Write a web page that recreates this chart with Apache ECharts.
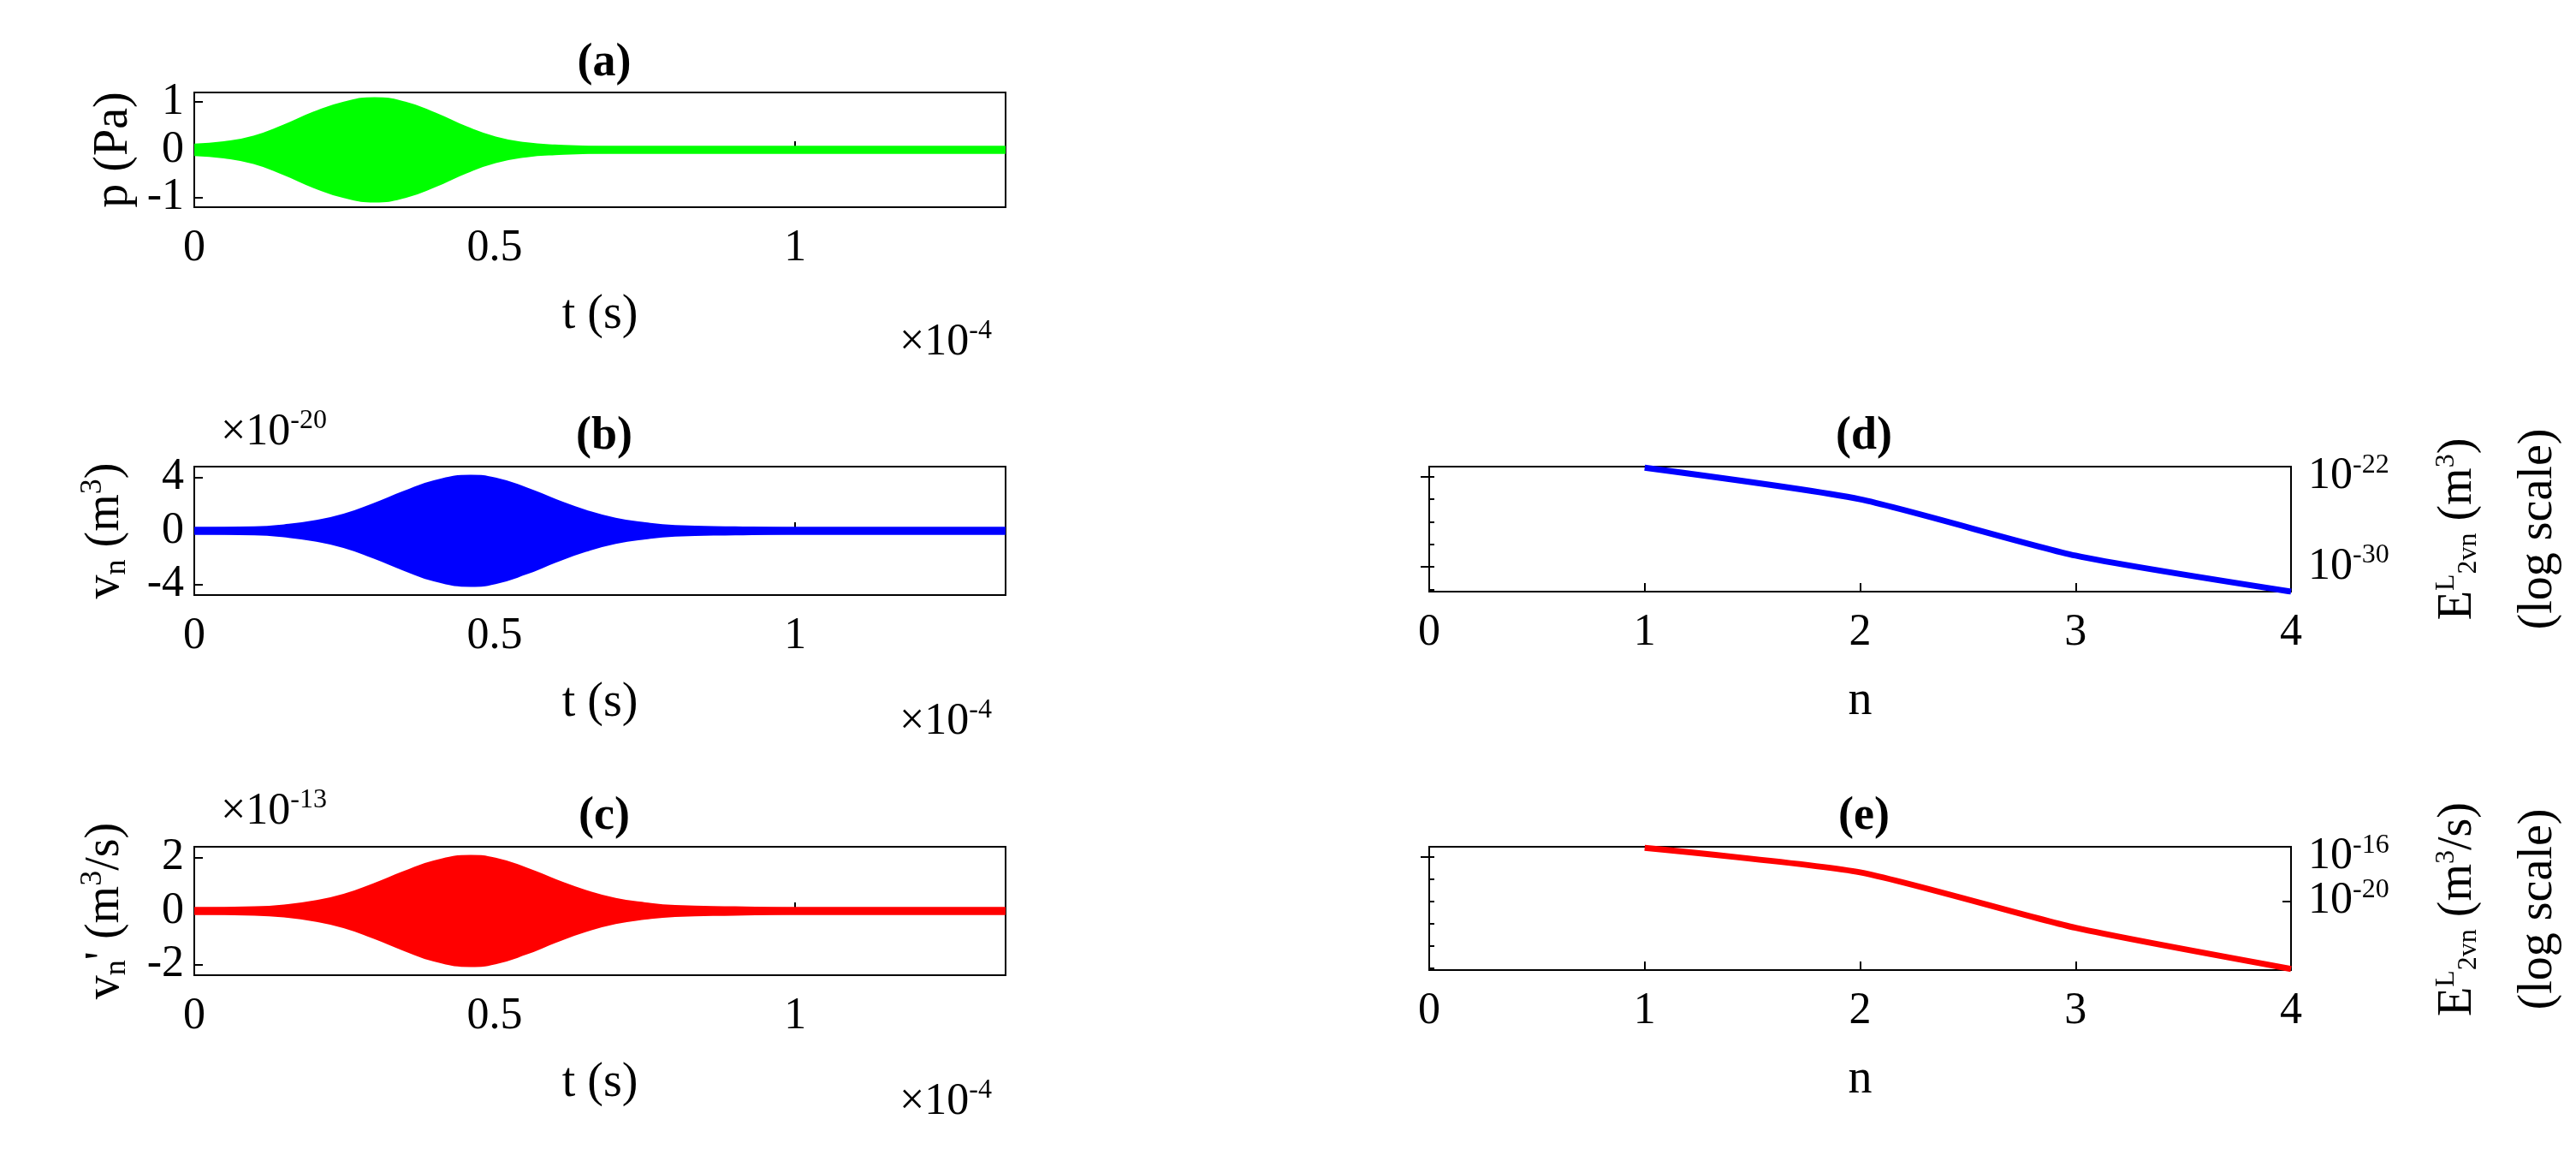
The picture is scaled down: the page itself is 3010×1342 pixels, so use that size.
<!DOCTYPE html>
<html>
<head>
<meta charset="utf-8">
<script src="https://cdn.jsdelivr.net/npm/echarts@6/dist/echarts.min.js"></script>
<style>html,body{margin:0;background:#fff}#main{width:3010px;height:1342px}</style>
</head>
<body>
<div id="main"></div>
<script>
// envelope amplitudes (t in units of 1e-4 s)
var tA = [0, 0.05, 0.1, 0.15, 0.2, 0.25, 0.3, 0.35, 0.4, 0.45, 0.5, 0.55, 0.6, 0.7, 1.35];
var envA = [0.05, 0.1, 0.22, 0.45, 0.72, 0.93, 1.02, 0.93, 0.7, 0.42, 0.2, 0.08, 0.03, 0, 0];
var tB = [0, 0.1, 0.15, 0.2, 0.25, 0.3, 0.35, 0.4, 0.46, 0.5, 0.55, 0.6, 0.65, 0.7, 0.75, 0.8, 0.9, 1.0, 1.35];
var envB = [0, 0.05, 0.2, 0.5, 1.0, 1.8, 2.7, 3.5, 3.9, 3.7, 3.0, 2.1, 1.3, 0.7, 0.35, 0.15, 0.05, 0, 0];
var envC = [0, 0.03, 0.1, 0.25, 0.5, 0.9, 1.35, 1.75, 1.95, 1.85, 1.5, 1.05, 0.65, 0.35, 0.18, 0.08, 0.03, 0, 0];
var tTicks = [0, 0.5, 1];
// error norms, log10 values
var nVals = [1, 2, 3, 4];
var logErrV = [-21.2, -24.0, -29.0, -32.2];
var logErrVd = [-15.2, -17.4, -22.4, -26.1];

var FONT = 'Liberation Serif';
var supStyle = {fontSize: 32, verticalAlign: 'top', padding: [0, 0, 26, 0], fontFamily: FONT, color: '#000'};
var subStyle = {fontSize: 32, verticalAlign: 'bottom', padding: [26, 0, 0, 0], fontFamily: FONT, color: '#000'};
var rich = {sup: supStyle, sub: subStyle};

function pairs(t, v, sign) {
    return t.map(function (x, i) { return [x, sign * v[i]]; });
}

var grids = [
    {left: 227, width: 948, top: 108, height: 134},
    {left: 227, width: 948, top: 545, height: 150},
    {left: 227, width: 948, top: 989, height: 150},
    {left: 1670, width: 1007, top: 545, height: 146},
    {left: 1670, width: 1007, top: 989, height: 144}
];
grids.forEach(function (g) { g.show = true; g.borderColor = '#000'; g.borderWidth = 2; });

function tAxis(i) {
    return {
        type: 'value', gridIndex: i, min: 0, max: 1.35,
        name: 't (s)', nameLocation: 'middle', nameGap: 98,
        nameTextStyle: {fontFamily: FONT, fontSize: 56, color: '#000'},
        axisLine: {show: false}, splitLine: {show: false},
        axisTick: {inside: true, length: 10, customValues: tTicks, lineStyle: {color: '#000', width: 2}},
        axisLabel: {fontFamily: FONT, fontSize: 52, color: '#000', margin: 22, customValues: tTicks}
    };
}
function nAxis(i) {
    return {
        type: 'value', gridIndex: i, min: 0, max: 4, interval: 1,
        name: 'n', nameLocation: 'middle', nameGap: 100,
        nameTextStyle: {fontFamily: FONT, fontSize: 56, color: '#000'},
        axisLine: {show: false}, axisTick: {inside: true, length: 10, lineStyle: {color: '#000', width: 2}},
        splitLine: {show: false},
        axisLabel: {fontFamily: FONT, fontSize: 52, color: '#000', margin: 22}
    };
}
function ampAxis(i, lim, step, nameTxt, gap) {
    return {
        type: 'value', gridIndex: i, min: -lim, max: lim,
        name: nameTxt, nameLocation: 'middle', nameGap: gap, nameRotate: 90,
        nameTextStyle: {fontFamily: FONT, fontSize: 56, color: '#000', rich: {
            sup: {fontSize: 36, verticalAlign: 'top', padding: [0, 0, 28, 0], fontFamily: FONT, color: '#000'},
            sub: {fontSize: 36, verticalAlign: 'bottom', padding: [28, 0, 0, 0], fontFamily: FONT, color: '#000'}}},
        axisLine: {show: false}, splitLine: {show: false},
        axisTick: {inside: true, length: 10, customValues: [-step, 0, step], lineStyle: {color: '#000', width: 2}},
        axisLabel: {fontFamily: FONT, fontSize: 52, color: '#000', margin: 12, customValues: [-step, 0, step]}
    };
}
function logAxis(i, lo, hi, labels) {
    return {
        type: 'value', gridIndex: i, position: 'right', min: lo, max: hi,
        axisLine: {show: false}, splitLine: {show: false},
        axisTick: {inside: true, length: 10, customValues: labels, lineStyle: {color: '#000', width: 2}},
        axisLabel: {
            fontFamily: FONT, fontSize: 52, color: '#000', margin: 20, customValues: labels,
            hideOverlap: false,
            formatter: function (v) { return '10{sup|' + Math.round(v) + '}'; },
            rich: rich
        }
    };
}
function logAxisLeft(i, lo, hi) {
    var vals = [];
    for (var k = Math.ceil(lo); k <= hi; k += 2) vals.push(k);
    return {
        type: 'value', gridIndex: i, position: 'left', min: lo, max: hi,
        axisLine: {show: false}, splitLine: {show: false}, axisLabel: {show: false},
        axisTick: {inside: true, length: 6, customValues: vals, lineStyle: {color: '#000', width: 2}}
    };
}

function band(xi, yi, t, env, color) {
    var base = {type: 'line', xAxisIndex: xi, yAxisIndex: yi, smooth: true, showSymbol: false,
        lineStyle: {color: color, width: 9}, areaStyle: {color: color, opacity: 1}};
    return [
        Object.assign({}, base, {data: pairs(t, env, 1)}),
        Object.assign({}, base, {data: pairs(t, env, -1)})
    ];
}

function titleAt(txt, x, y) {
    return {text: txt, left: x, top: y, textAlign: 'center',
        textStyle: {fontFamily: FONT, fontSize: 54, fontWeight: 'bold', color: '#000'}};
}

function gtext(txt, x, y, size, rot) {
    return {type: 'text', x: x, y: y, rotation: rot || 0,
        style: {text: txt, fontFamily: FONT, fontSize: size, fill: '#000', rich: rich,
            align: 'center', verticalAlign: 'middle'}};
}

var option = {
    backgroundColor: '#fff',
    animation: false,
    title: [
        titleAt('(a)', 701, 42), titleAt('(b)', 701, 478), titleAt('(c)', 701, 922),
        titleAt('(d)', 2173, 478), titleAt('(e)', 2173, 922)
    ],
    grid: grids,
    xAxis: [tAxis(0), tAxis(1), tAxis(2), nAxis(3), nAxis(4)],
    yAxis: [
        ampAxis(0, 1.2, 1, 'p (Pa)', 66),
        ampAxis(1, 4.8, 4, 'v{sub|n} (m{sup|3})', 72),
        ampAxis(2, 2.4, 2, 'v{sub|n}\' (m{sup|3}/s)', 72),
        logAxis(3, -32.2, -21.1, [-30, -22]),
        logAxis(4, -26.2, -15.1, [-16]),
        logAxisLeft(3, -32.2, -21.1),
        logAxisLeft(4, -26.2, -15.1),
        logAxis(4, -26.2, -15.1, [-20])
    ],
    graphic: [
        gtext('×10{sup|-4}', 1105, 400, 52),
        gtext('×10{sup|-4}', 1105, 843, 52),
        gtext('×10{sup|-4}', 1105, 1287, 52),
        gtext('×10{sup|-20}', 320, 505, 52),
        gtext('×10{sup|-13}', 320, 948, 52),
        gtext('E{sup|L}{sub|2}{sub|v}{sub|n} (m{sup|3})', 2872, 618, 56, Math.PI / 2),
        gtext('(log scale)', 2966, 618, 56, Math.PI / 2),
        gtext('E{sup|L}{sub|2}{sub|v}{sub|n} (m{sup|3}/s)', 2872, 1062, 56, Math.PI / 2),
        gtext('(log scale)', 2966, 1062, 56, Math.PI / 2)
    ],
    series: [].concat(
        band(0, 0, tA, envA, '#00ff00'),
        band(1, 1, tB, envB, '#0000ff'),
        band(2, 2, tB, envC, '#ff0000'),
        [{type: 'line', xAxisIndex: 3, yAxisIndex: 3, showSymbol: false, smooth: 0.2,
            lineStyle: {color: '#0000ff', width: 7},
            data: nVals.map(function (n, i) { return [n, logErrV[i]]; })},
         {type: 'line', xAxisIndex: 4, yAxisIndex: 4, showSymbol: false, smooth: 0.2,
            lineStyle: {color: '#ff0000', width: 7},
            data: nVals.map(function (n, i) { return [n, logErrVd[i]]; })}]
    )
};

var myChart = echarts.init(document.getElementById('main'));
myChart.setOption(option);
</script>
</body>
</html>
